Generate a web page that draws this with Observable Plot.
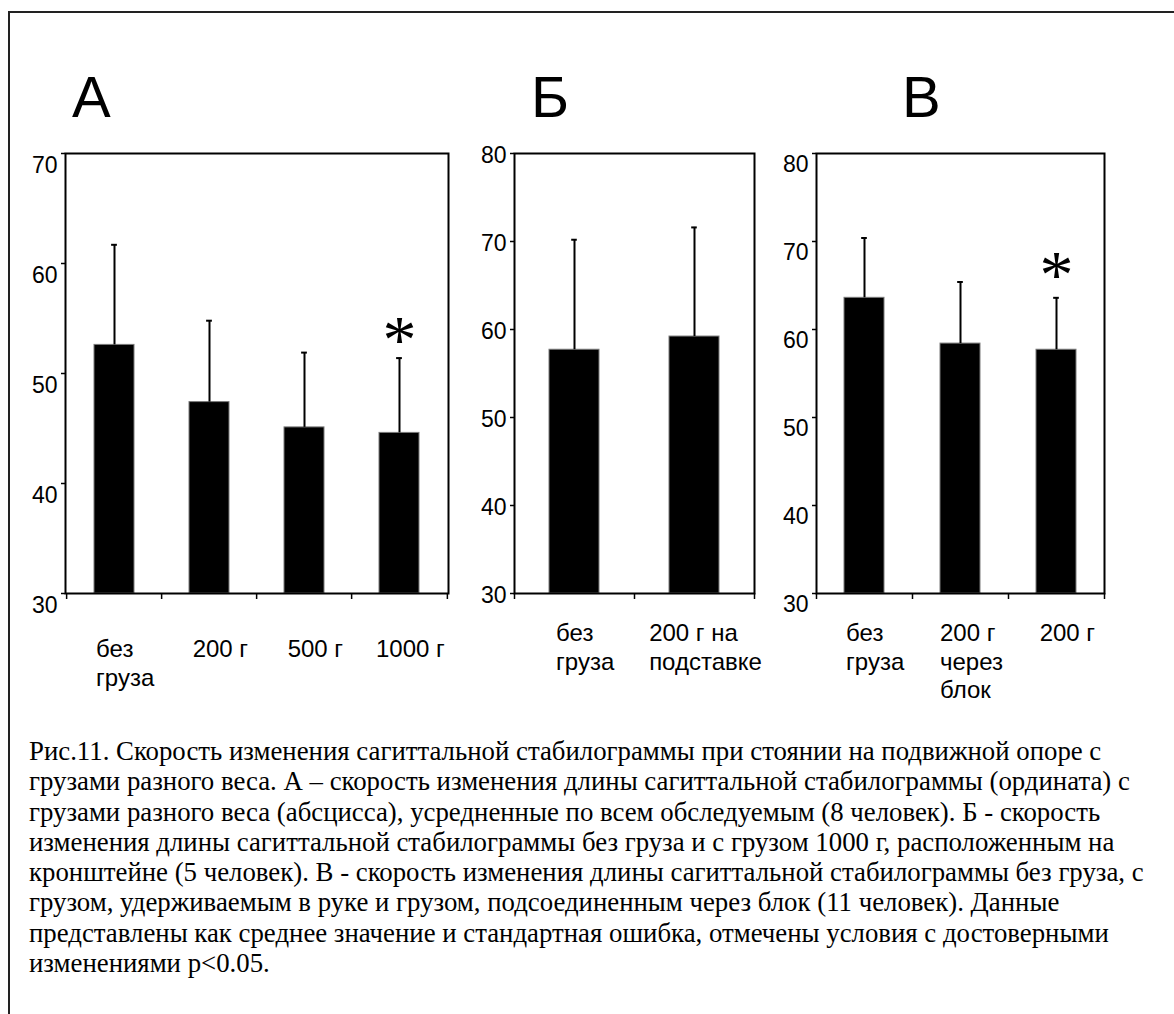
<!DOCTYPE html>
<html>
<head>
<meta charset="utf-8">
<script src="https://cdn.jsdelivr.net/npm/d3@7"></script>
<script src="https://cdn.jsdelivr.net/npm/@observablehq/plot@0.6"></script>
<style>
  html, body { margin: 0; padding: 0; background: #fff; }
  body { position: relative; width: 1174px; height: 1014px; overflow: hidden; }
  #border { position: absolute; left: 8px; top: 11px; width: 1300px; height: 1200px;
            border-top: 2px solid #222; border-left: 2px solid #222; }
  .letter { position: absolute; top: 68px; font-family: "Liberation Sans", Arial, sans-serif;
            font-size: 58px; line-height: 58px; color: #000; }
  .panel { position: absolute; top: 143px; }
  .panel svg { overflow: visible; }
  #caption { position: absolute; left: 29px; top: 736px; margin: 0;
             font-family: "Liberation Serif", "Times New Roman", serif;
             font-size: 26.8px; line-height: 30.3px; white-space: nowrap; color: #000; }
</style>
</head>
<body>
<div id="border"></div>
<div class="letter" style="left:72px">А</div>
<div class="letter" style="left:531px">Б</div>
<div class="letter" style="left:902px">В</div>
<div class="panel" id="pA" style="left:5px"></div>
<div class="panel" id="pB" style="left:454px"></div>
<div class="panel" id="pC" style="left:756px"></div>
<p id="caption"></p>
<script>
// ---- Data ----
const catsA = ["без\nгруза", "200 г", "500 г", "1000 г"];
const meanA = [52.6, 47.4, 45.1, 44.6];
const seA   = [9.1, 7.4, 6.8, 6.8];
const sigA  = [false, false, false, true];
const yDomainA = [30, 70];
const yTicksA  = [30, 40, 50, 60, 70];

const catsB = ["без\nгруза", "200 г на\nподставке"];
const meanB = [57.7, 59.2];
const seB   = [12.5, 12.4];
const sigB  = [false, false];
const yDomainB = [30, 80];
const yTicksB  = [30, 40, 50, 60, 70, 80];

const catsC = ["без\nгруза", "200 г\nчерез\nблок", "200 г"];
const meanC = [63.6, 58.4, 57.7];
const seC   = [6.8, 7.0, 5.9];
const sigC  = [false, false, true];
const yDomainC = [30, 80];
const yTicksC  = [30, 40, 50, 60, 70, 80];

const captionLines = [
  "Рис.11. Скорость изменения сагиттальной стабилограммы при стоянии на подвижной опоре с",
  "грузами разного веса. А – скорость изменения длины сагиттальной стабилограммы (ордината) с",
  "грузами разного веса (абсцисса), усредненные по всем обследуемым (8 человек). Б - скорость",
  "изменения длины сагиттальной стабилограммы без груза и с грузом 1000 г, расположенным на",
  "кронштейне (5 человек). В - скорость изменения длины сагиттальной стабилограммы без груза, с",
  "грузом, удерживаемым в руке и грузом, подсоединенным через блок (11 человек). Данные",
  "представлены как среднее значение и стандартная ошибка, отмечены условия с достоверными",
  "изменениями p<0.05."
];

const cap = document.getElementById("caption");
captionLines.forEach((l, i) => {
  if (i) cap.appendChild(document.createElement("br"));
  cap.appendChild(document.createTextNode(l));
});

function panel(el, o) {
  const data = o.cats.map((c, i) => ({cat: c, mean: o.means[i], se: o.ses[i], sig: o.sigs[i]}));
  const mL = 60, mR = 40, mT = 10, mB = 110, H = 440;
  const pw = o.plotWidth;
  const n = o.cats.length;
  const step = pw / n;
  const padInner = 0.58;
  const bw = step * (1 - padInner);
  const capInset = (bw - 6) / 2;
  const base = o.yDomain[0];
  const chart = Plot.plot({
    width: mL + pw + mR,
    height: mT + H + mB,
    marginLeft: mL, marginRight: mR, marginTop: mT, marginBottom: mB,
    style: {fontFamily: "'Liberation Sans', Arial, sans-serif", background: "transparent", overflow: "visible", color: "#000"},
    x: {type: "band", domain: o.cats, paddingInner: padInner, paddingOuter: padInner / 2, label: null},
    y: {domain: o.yDomain, label: null},
    marks: [
      Plot.barY(data, {x: "cat", y1: () => base, y2: "mean", fill: "#000", stroke: "#7a7a7a", strokeWidth: 1}),
      Plot.ruleX(data, {x: "cat", y1: "mean", y2: d => d.mean + d.se, stroke: "#000", strokeWidth: 2}),
      Plot.tickY(data, {x: "cat", y: d => d.mean + d.se, stroke: "#000", strokeWidth: 2, insetLeft: capInset, insetRight: capInset}),
      Plot.text(data.filter(d => d.sig), {x: "cat", y: d => d.mean + d.se, text: () => "*", dy: o.starDy, fontSize: 68, fontFamily: "'Liberation Serif', 'Times New Roman', serif", lineAnchor: "middle", fill: "#000"}),
      Plot.frame({stroke: "#000", strokeWidth: 2}),
      Plot.axisY({ticks: o.yTicks, tickSize: 4, fill: "none", strokeWidth: 1.5, label: null}),
      Plot.axisY({ticks: o.yTicks, tickSize: 0, tickPadding: 8, fontSize: 23, dy: o.yDy, label: null}),
      Plot.ruleX(o.cats, {x: d => d, y1: () => base, y2: () => base, insetBottom: -6, dx: -step / 2, stroke: "#000", strokeWidth: 1.5}),
      Plot.ruleX([o.cats[n - 1]], {x: d => d, y1: () => base, y2: () => base, insetBottom: -6, dx: step / 2, stroke: "#000", strokeWidth: 1.5}),
      Plot.axisX({tickSize: 0, tickPadding: o.xPad, fontSize: 24, lineHeight: 1.17, dx: 11, label: null})
    ]
  });
  el.appendChild(chart);
  // font sizes of the tick labels
  chart.querySelectorAll("text").forEach(t => {
    if (/^\d+$/.test(t.textContent.trim())) t.style.fontSize = "23px";
  });
  // left-align the lines of each multi-line category label inside its centred block
  const g = chart.querySelector('g[aria-label="x-axis tick label"]');
  if (g) {
    g.setAttribute("text-anchor", "start");
    g.querySelectorAll("text").forEach(t => {
      t.style.fontSize = "24px";
      t.setAttribute("text-anchor", "start");
      const w = t.getBBox().width;
      const ts = t.querySelectorAll("tspan");
      if (ts.length) ts.forEach(s => s.setAttribute("x", -w / 2));
      else t.setAttribute("x", -w / 2);
    });
  }
}

panel(document.getElementById("pA"), {cats: catsA, means: meanA, ses: seA, sigs: sigA, yDomain: yDomainA, yTicks: yTicksA, plotWidth: 383, yDy: 12, xPad: 44, starDy: -18});
panel(document.getElementById("pB"), {cats: catsB, means: meanB, ses: seB, sigs: sigB, yDomain: yDomainB, yTicks: yTicksB, plotWidth: 240, yDy: 2, xPad: 28, starDy: -18});
panel(document.getElementById("pC"), {cats: catsC, means: meanC, ses: seC, sigs: sigC, yDomain: yDomainC, yTicks: yTicksC, plotWidth: 288, yDy: 11, xPad: 28, starDy: -23});
</script>
</body>
</html>
